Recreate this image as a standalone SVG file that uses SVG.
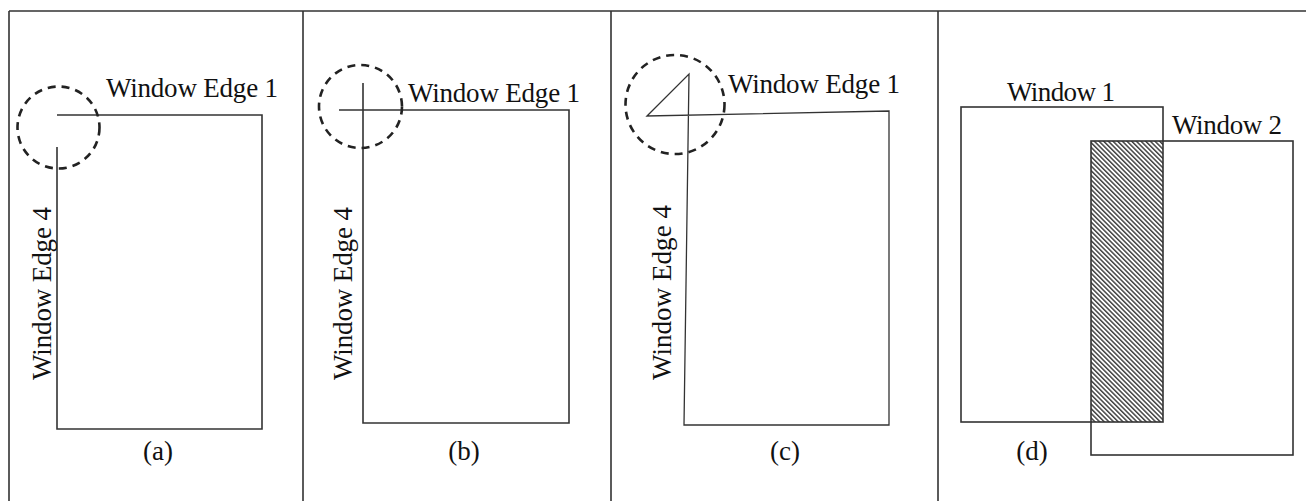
<svg xmlns="http://www.w3.org/2000/svg" width="1306" height="501" viewBox="0 0 1306 501">
<style>
.ln{fill:none;stroke:#333;stroke-width:1.6;stroke-linejoin:miter}
.thin{fill:none;stroke:#333;stroke-width:1.3}
.dash{fill:none;stroke:#222;stroke-width:2.6;stroke-dasharray:8,6}
.t{font-family:"Liberation Serif","Times New Roman",serif;font-size:27px;fill:#111}
.cap{font-family:"Liberation Serif","Times New Roman",serif;font-size:27px;fill:#111;text-anchor:middle}
</style>
<defs>
<pattern id="hatch" patternUnits="userSpaceOnUse" width="3.3" height="10" patternTransform="rotate(-45)">
<rect x="0" y="0" width="1.5" height="10" fill="#444"/>
</pattern>
</defs>
<rect width="1306" height="501" fill="#fff"/>
<g id="frame" class="ln">
<path d="M9,11 H1306 M9,11 V501 M303,11 V501 M611,11 V501 M938,11 V501"/>
</g>
<g id="panel-a">
<path class="ln" d="M57,115 H262 V429 H57 V147"/>
<circle class="dash" cx="58.5" cy="127.5" r="41"/>
<text class="t" x="106" y="97" textLength="172">Window Edge 1</text>
<text class="t" transform="translate(51,380) rotate(-90)" textLength="173">Window Edge 4</text>
<text class="cap" x="158" y="460">(a)</text>
</g>
<g id="panel-b">
<path class="ln" d="M339,110 H569 V423 H363 V83"/>
<circle class="dash" cx="360.5" cy="106.5" r="41.5"/>
<text class="t" x="408" y="102" textLength="172">Window Edge 1</text>
<text class="t" transform="translate(352,380) rotate(-90)" textLength="173">Window Edge 4</text>
<text class="cap" x="464" y="460">(b)</text>
</g>
<g id="panel-c">
<path class="thin" d="M647,116 L689,74 L684,425 H889 V111 L647,116 Z"/>
<circle class="dash" cx="675" cy="104.5" r="49.5"/>
<text class="t" x="728" y="93" textLength="172">Window Edge 1</text>
<text class="t" transform="translate(671,380) rotate(-90)" textLength="175">Window Edge 4</text>
<text class="cap" x="785" y="460">(c)</text>
</g>
<g id="panel-d">
<rect x="1091" y="141" width="72" height="281" fill="url(#hatch)"/>
<rect id="window1" class="ln" x="961" y="107" width="202" height="315"/>
<rect id="window2" class="ln" x="1091" y="141" width="202" height="314"/>
<text class="t" x="1007" y="101" textLength="108">Window 1</text>
<text class="t" x="1172" y="134" textLength="110">Window 2</text>
<text class="cap" x="1032" y="460">(d)</text>
</g>
</svg>
